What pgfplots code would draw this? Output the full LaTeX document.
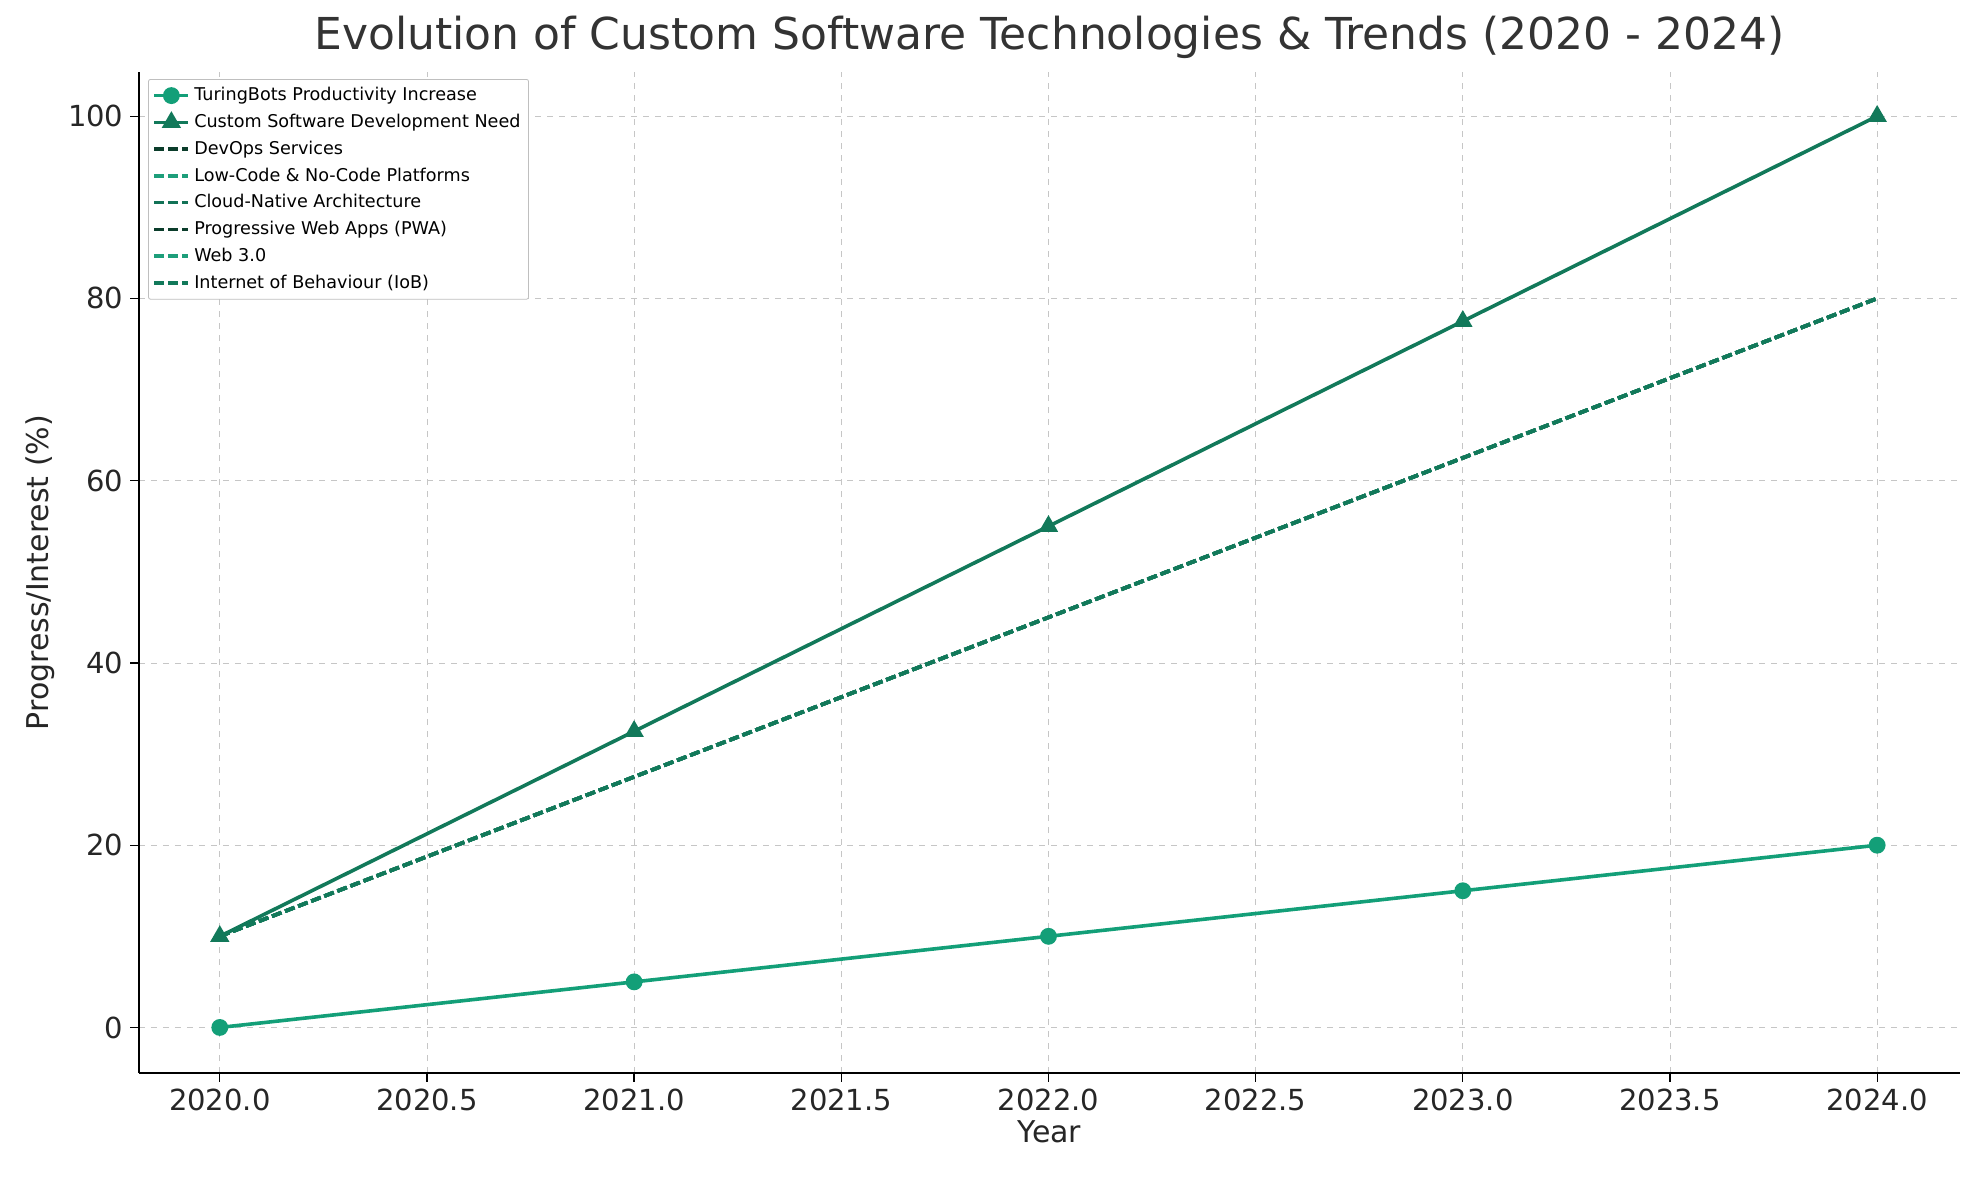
\documentclass[border=0pt]{standalone}
\usepackage{pgfplots}
\pgfplotsset{compat=1.18}
\usepackage{fontspec}
\setmainfont{DejaVu Sans}
\definecolor{cA}{HTML}{139F78}
\definecolor{cB}{HTML}{12795A}
\definecolor{cC}{HTML}{0B3D2B}
\definecolor{cD}{HTML}{1D9E7A}
\definecolor{cE}{HTML}{127256}
\begin{document}
\begin{tikzpicture}
\begin{axis}[
  at={(0,0)}, anchor=south west,
  scale only axis, width=910.5pt, height=500.5pt,
  xmin=2019.805, xmax=2024.2, ymin=-5, ymax=104.85,
  xtick={2020,2020.5,...,2024},
  xticklabels={2020.0,2020.5,2021.0,2021.5,2022.0,2022.5,2023.0,2023.5,2024.0},
  ytick={0,20,...,100},
  /pgf/number format/assume math mode=true,
  tick label style={font=\fontsize{14.5}{17}\selectfont, text=black!85},
  label style={font=\fontsize{15}{18}\selectfont, text=black!85},
  xlabel={Year}, ylabel={Progress/Interest (\%)},
  xlabel style={yshift=2pt},
  title={Evolution of Custom Software Technologies \& Trends (2020 - 2024)},
  title style={font=\fontsize{22}{26}\selectfont, text=black!80, yshift=-3pt},
  grid=major, grid style={dashed, gray!45, line width=0.4pt},
  axis x line*=bottom, axis y line*=left,
  axis line style={line width=0.8pt},
  tick align=outside, tick style={black, line width=0.6pt},
  legend style={at={(0.005,0.993)}, anchor=north west, font=\fontsize{8.8}{10}\selectfont,
    draw=gray!50, rounded corners=1pt, row sep=1.2pt, inner sep=2pt},
  legend cell align=left,
  every axis plot/.append style={line width=1.8pt},
]
\addplot[cA, mark=*, mark size=3.3pt] coordinates {(2020,0)(2021,5)(2022,10)(2023,15)(2024,20)};
\addlegendentry{TuringBots Productivity Increase}
\addplot[cB, mark=triangle*, mark size=3.8pt] coordinates {(2020,10)(2021,32.5)(2022,55)(2023,77.5)(2024,100)};
\addlegendentry{Custom Software Development Need}
\addplot[cC, dash pattern=on 5pt off 2pt] coordinates {(2020,10)(2021,27.5)(2022,45)(2023,62.5)(2024,80)};
\addlegendentry{DevOps Services}
\addplot[cD, dash pattern=on 5pt off 2pt] coordinates {(2020,10)(2021,27.5)(2022,45)(2023,62.5)(2024,80)};
\addlegendentry{Low-Code \& No-Code Platforms}
\addplot[cE, dash pattern=on 5pt off 2pt] coordinates {(2020,10)(2021,27.5)(2022,45)(2023,62.5)(2024,80)};
\addlegendentry{Cloud-Native Architecture}
\addplot[cC, dash pattern=on 5pt off 2pt] coordinates {(2020,10)(2021,27.5)(2022,45)(2023,62.5)(2024,80)};
\addlegendentry{Progressive Web Apps (PWA)}
\addplot[cD, dash pattern=on 5pt off 2pt] coordinates {(2020,10)(2021,27.5)(2022,45)(2023,62.5)(2024,80)};
\addlegendentry{Web 3.0}
\addplot[cB, dash pattern=on 5pt off 2pt] coordinates {(2020,10)(2021,27.5)(2022,45)(2023,62.5)(2024,80)};
\addlegendentry{Internet of Behaviour (IoB)}
\end{axis}
\pgfresetboundingbox
\path[use as bounding box] (-69.5pt,-53.5pt) rectangle (920pt,536.5pt);
\end{tikzpicture}
\end{document}
